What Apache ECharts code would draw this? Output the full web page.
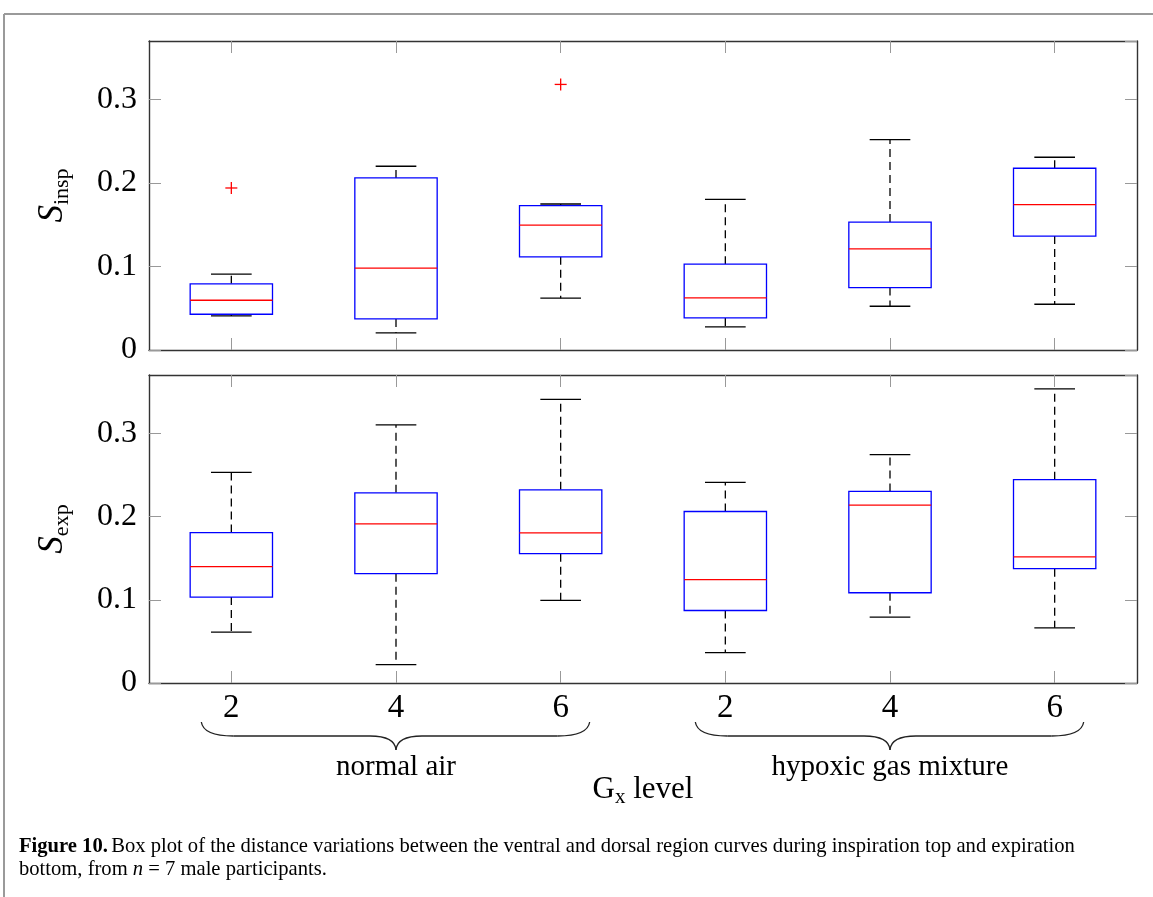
<!DOCTYPE html>
<html>
<head>
<meta charset="utf-8">
<script src="https://cdn.jsdelivr.net/npm/echarts@6/dist/echarts.min.js"></script>
<style>
html,body{margin:0;padding:0;background:#fff;}
#chart{width:1153px;height:897px;}
</style>
</head>
<body>
<div id="chart"></div>
<script>
// ---- data ----
const categories = ['2', '4', '6', '2', '4', '6'];
const groupNames = ['normal air', 'hypoxic gas mixture'];
const groupRanges = [[0, 2], [3, 5]];
// [min, Q1, median, Q3, max]
const inspBoxes = [
  [0.0408, 0.0428, 0.0596, 0.0792, 0.0908],
  [0.0204, 0.0372, 0.0980, 0.2060, 0.2200],
  [0.0620, 0.1116, 0.1496, 0.1728, 0.1748],
  [0.0276, 0.0384, 0.0624, 0.1028, 0.1804],
  [0.0524, 0.0748, 0.1212, 0.1532, 0.2520],
  [0.0548, 0.1364, 0.1740, 0.2176, 0.2308]
];
const inspOutliers = [[0, 0.194], [2, 0.318]];
const expBoxes = [
  [0.0610, 0.1032, 0.1398, 0.1807, 0.2530],
  [0.0221, 0.1313, 0.1912, 0.2285, 0.3100],
  [0.0992, 0.1554, 0.1803, 0.2321, 0.3406],
  [0.0365, 0.0871, 0.1241, 0.2060, 0.2410],
  [0.0791, 0.1084, 0.2137, 0.2301, 0.2743],
  [0.0663, 0.1373, 0.1514, 0.2442, 0.3534]
];
const expOutliers = [];
const yMin = 0, yMax = 0.37, yInterval = 0.1;
const yTickLabels = ['0', '0.1', '0.2', '0.3'];

// ---- chart ----
const SERIF = 'Liberation Serif';
const chart = echarts.init(document.getElementById('chart'), null, {renderer: 'canvas'});

const grids = [
  {left: 149, top: 41, width: 988, height: 309},
  {left: 149, top: 375, width: 988, height: 308}
];

function xAxes(gi, showLabels) {
  const common = {
    type: 'category', data: categories, gridIndex: gi, boundaryGap: true,
    axisLine: {show: true, onZero: false, lineStyle: {color: '#333', width: 1.4}},
    axisTick: {show: true, inside: true, alignWithLabel: true, length: 12, lineStyle: {color: '#999', width: 1}},
    splitLine: {show: false}
  };
  return [
    Object.assign({}, common, {position: 'bottom',
      axisLabel: {show: showLabels, fontFamily: SERIF, fontSize: 33, color: '#000', margin: 9}}),
    Object.assign({}, common, {position: 'top', axisLabel: {show: false}})
  ];
}
function yAxes(gi) {
  const common = {
    type: 'value', gridIndex: gi, min: yMin, max: yMax, interval: yInterval,
    axisLine: {show: true, onZero: false, lineStyle: {color: '#333', width: 1.4}},
    axisTick: {show: true, inside: true, length: 12, lineStyle: {color: '#999', width: 1}},
    splitLine: {show: false}
  };
  return [
    Object.assign({}, common, {position: 'left',
      axisLabel: {show: true, showMaxLabel: false, fontFamily: SERIF, fontSize: 32, color: '#000', margin: 12,
        formatter: function (v) {
          const i = Math.round(v / yInterval);
          return Math.abs(v - i * yInterval) < 1e-9 && yTickLabels[i] !== undefined ? yTickLabels[i] : '';
        }}}),
    Object.assign({}, common, {position: 'right', axisLabel: {show: false}})
  ];
}

function renderBox(params, api) {
  const x = api.value(0);
  const pMin = api.coord([x, api.value(1)]);
  const pQ1 = api.coord([x, api.value(2)]);
  const pMed = api.coord([x, api.value(3)]);
  const pQ3 = api.coord([x, api.value(4)]);
  const pMax = api.coord([x, api.value(5)]);
  const band = api.size([1, 0])[0];
  const bw = band * 0.5, cw = band * 0.247;
  const cx = pMed[0];
  const black = {stroke: '#000', lineWidth: 1.3, fill: null};
  const dashed = {stroke: '#000', lineWidth: 1.3, fill: null, lineDash: [8, 5]};
  return {
    type: 'group',
    children: [
      {type: 'line', shape: {x1: cx, y1: pQ3[1], x2: cx, y2: pMax[1]}, style: dashed},
      {type: 'line', shape: {x1: cx, y1: pQ1[1], x2: cx, y2: pMin[1]}, style: dashed},
      {type: 'line', shape: {x1: cx - cw / 2, y1: pMax[1], x2: cx + cw / 2, y2: pMax[1]}, style: black},
      {type: 'line', shape: {x1: cx - cw / 2, y1: pMin[1], x2: cx + cw / 2, y2: pMin[1]}, style: black},
      {type: 'rect', shape: {x: cx - bw / 2, y: pQ3[1], width: bw, height: pQ1[1] - pQ3[1]},
        style: {stroke: '#0000ff', lineWidth: 1.3, fill: '#fff'}},
      {type: 'line', shape: {x1: cx - bw / 2, y1: pMed[1], x2: cx + bw / 2, y2: pMed[1]},
        style: {stroke: '#ff0000', lineWidth: 1.3}}
    ]
  };
}
function renderPlus(params, api) {
  const p = api.coord([api.value(0), api.value(1)]);
  const s = 6;
  return {
    type: 'group',
    children: [
      {type: 'line', shape: {x1: p[0] - s, y1: p[1], x2: p[0] + s, y2: p[1]}, style: {stroke: '#ff0000', lineWidth: 1.3}},
      {type: 'line', shape: {x1: p[0], y1: p[1] - s, x2: p[0], y2: p[1] + s}, style: {stroke: '#ff0000', lineWidth: 1.3}}
    ]
  };
}

function boxData(arr) { return arr.map((b, i) => [i].concat(b)); }

const option = {
  animation: false,
  backgroundColor: '#fff',
  grid: grids,
  xAxis: xAxes(0, false).concat(xAxes(1, true)),
  yAxis: yAxes(0).concat(yAxes(1)),
  series: [
    {type: 'custom', xAxisIndex: 0, yAxisIndex: 0, renderItem: renderBox, data: boxData(inspBoxes),
      encode: {x: 0, y: [1, 2, 3, 4, 5]}, clip: false},
    {type: 'custom', xAxisIndex: 0, yAxisIndex: 0, renderItem: renderPlus, data: inspOutliers,
      encode: {x: 0, y: 1}},
    {type: 'custom', xAxisIndex: 2, yAxisIndex: 2, renderItem: renderBox, data: boxData(expBoxes),
      encode: {x: 0, y: [1, 2, 3, 4, 5]}, clip: false},
    {type: 'custom', xAxisIndex: 2, yAxisIndex: 2, renderItem: renderPlus, data: expOutliers,
      encode: {x: 0, y: 1}}
  ]
};
chart.setOption(option);

// ---- decorations positioned through the axes ----
const gfx = [];
// page border
gfx.push({type: 'line', shape: {x1: 4, y1: 14, x2: 1153, y2: 14}, style: {stroke: '#9a9a9a', lineWidth: 2}});
gfx.push({type: 'line', shape: {x1: 4, y1: 14, x2: 4, y2: 897}, style: {stroke: '#9a9a9a', lineWidth: 2}});

const yTop = 722, yMid = 736, yTip = 750;
const braceStyle = {stroke: '#222', lineWidth: 1.3, fill: null};
function qcurve(x1, y1, cx, cy, x2, y2) {
  return {type: 'bezierCurve', shape: {x1: x1, y1: y1, cpx1: cx, cpy1: cy, x2: x2, y2: y2}, style: braceStyle};
}
groupRanges.forEach(function (r, gi) {
  const xa = chart.convertToPixel({xAxisIndex: 2}, r[0]);
  const xb = chart.convertToPixel({xAxisIndex: 2}, r[1]);
  const xt = (xa + xb) / 2;
  const x0 = xa - 30, x1 = xb + 29;
  gfx.push(qcurve(x0, yTop, x0 + 2, yMid, x0 + 32, yMid));
  gfx.push({type: 'line', shape: {x1: x0 + 32, y1: yMid, x2: xt - 26, y2: yMid}, style: braceStyle});
  gfx.push(qcurve(xt - 26, yMid, xt - 1, yMid, xt, yTip));
  gfx.push(qcurve(xt, yTip, xt + 1, yMid, xt + 26, yMid));
  gfx.push({type: 'line', shape: {x1: xt + 26, y1: yMid, x2: x1 - 32, y2: yMid}, style: braceStyle});
  gfx.push(qcurve(x1 - 32, yMid, x1 - 2, yMid, x1, yTop));
  gfx.push({type: 'text', x: xt, y: 767, style: {text: groupNames[gi], font: '29px "Liberation Serif"',
    fill: '#000', align: 'center', verticalAlign: 'middle'}});
});

// x axis title
const gridCenterX = (chart.convertToPixel({xAxisIndex: 2}, 0) + chart.convertToPixel({xAxisIndex: 2}, categories.length - 1)) / 2;
gfx.push({type: 'text', x: gridCenterX, y: 790, style: {
  text: '{m|G}{s|x}{m| level}', align: 'center', verticalAlign: 'middle',
  rich: {
    m: {fontFamily: SERIF, fontSize: 31, lineHeight: 36, fill: '#000', verticalAlign: 'middle'},
    s: {fontFamily: SERIF, fontSize: 21, lineHeight: 20, fill: '#000', verticalAlign: 'bottom'}
  }}});

// y axis titles
function yTitle(sub, yAxisIndex) {
  const a = chart.convertToPixel({yAxisIndex: yAxisIndex}, yMin);
  const b = chart.convertToPixel({yAxisIndex: yAxisIndex}, yMax);
  return {type: 'text', x: 53, y: (a + b) / 2, rotation: Math.PI / 2, style: {
    text: '{m|S}{s|' + sub + '}', align: 'center', verticalAlign: 'middle',
    rich: {
      m: {fontFamily: SERIF, fontStyle: 'italic', fontSize: 35, lineHeight: 40, fill: '#000', verticalAlign: 'middle'},
      s: {fontFamily: SERIF, fontSize: 22, lineHeight: 22, fill: '#000', verticalAlign: 'bottom'}
    }}};
}
gfx.push(yTitle('insp', 0));
gfx.push(yTitle('exp', 2));

// caption
const CAP = 20.6;
gfx.push({type: 'text', x: 19, y: 847, style: {
  text: '{b|Figure 10.} {r|Box plot of the distance variations between the ventral and dorsal region curves during inspiration top and expiration}',
  verticalAlign: 'middle',
  rich: {
    b: {fontFamily: SERIF, fontWeight: 'bold', fontSize: CAP, fill: '#000'},
    r: {fontFamily: SERIF, fontSize: CAP, fill: '#000'}
  }}});
gfx.push({type: 'text', x: 19, y: 870, style: {
  text: '{r|bottom, from }{i|n}{r| = 7 male participants.}',
  verticalAlign: 'middle',
  rich: {
    r: {fontFamily: SERIF, fontSize: CAP, fill: '#000'},
    i: {fontFamily: SERIF, fontStyle: 'italic', fontSize: CAP, fill: '#000'}
  }}});

chart.setOption({graphic: {elements: gfx}});
</script>
</body>
</html>
